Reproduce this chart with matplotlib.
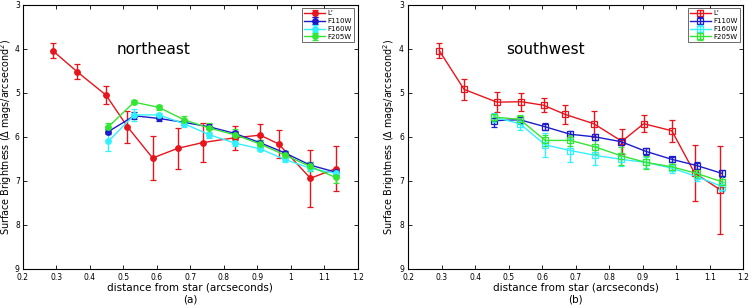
import matplotlib
matplotlib.use("Agg")
import matplotlib.pyplot as plt

# ---- Northeast data ----
ne_L_x = [0.29, 0.363, 0.449, 0.513, 0.588, 0.663, 0.737, 0.833, 0.909, 0.964, 1.059, 1.135]
ne_L_y = [4.04, 4.52, 5.05, 5.77, 6.48, 6.26, 6.13, 6.02, 5.96, 6.16, 6.94, 6.72]
ne_L_e = [0.17, 0.17, 0.21, 0.36, 0.50, 0.46, 0.45, 0.27, 0.26, 0.31, 0.65, 0.52]

ne_x = [0.456, 0.533, 0.607, 0.682, 0.757, 0.833, 0.908, 0.982, 1.058, 1.134]
ne_110_y = [5.88, 5.52, 5.58, 5.67, 5.77, 5.92, 6.13, 6.36, 6.64, 6.80]
ne_110_e = [0.06, 0.08, 0.05, 0.05, 0.06, 0.06, 0.05, 0.05, 0.06, 0.06]
ne_160_y = [6.10, 5.50, 5.50, 5.70, 5.95, 6.14, 6.27, 6.51, 6.71, 6.83]
ne_160_e = [0.22, 0.14, 0.05, 0.07, 0.07, 0.07, 0.06, 0.06, 0.06, 0.06]
ne_205_y = [5.77, 5.21, 5.33, 5.61, 5.80, 5.95, 6.16, 6.41, 6.67, 6.92]
ne_205_e = [0.08, 0.05, 0.05, 0.08, 0.12, 0.12, 0.08, 0.08, 0.10, 0.12]

# ---- Southwest data ----
sw_L_x = [0.293, 0.367, 0.465, 0.538, 0.604, 0.669, 0.754, 0.838, 0.903, 0.987, 1.055, 1.131]
sw_L_y = [4.04, 4.92, 5.21, 5.20, 5.28, 5.49, 5.70, 6.10, 5.70, 5.86, 6.82, 7.20]
sw_L_e = [0.17, 0.23, 0.23, 0.20, 0.16, 0.22, 0.30, 0.29, 0.19, 0.25, 0.63, 1.00]

sw_x = [0.457, 0.533, 0.609, 0.684, 0.759, 0.836, 0.910, 0.987, 1.061, 1.137]
sw_110_y = [5.63, 5.61, 5.77, 5.94, 6.00, 6.11, 6.33, 6.51, 6.65, 6.83]
sw_110_e = [0.15, 0.06, 0.08, 0.07, 0.07, 0.07, 0.07, 0.06, 0.07, 0.08]
sw_160_y = [5.55, 5.70, 6.18, 6.31, 6.42, 6.51, 6.58, 6.71, 6.90, 7.13]
sw_160_e = [0.10, 0.15, 0.28, 0.27, 0.22, 0.15, 0.13, 0.10, 0.10, 0.10]
sw_205_y = [5.55, 5.60, 6.08, 6.08, 6.23, 6.43, 6.58, 6.68, 6.83, 7.02]
sw_205_e = [0.08, 0.10, 0.12, 0.12, 0.15, 0.20, 0.15, 0.10, 0.10, 0.12]

labels = ["L'", "F110W", "F160W", "F205W"]
colors = ["#e8141c", "#1c1ccc", "#33f0ff", "#33e633"]
xticks = [0.2, 0.3, 0.4, 0.5, 0.6, 0.7, 0.8, 0.9, 1, 1.1, 1.2]
xticklabels = ["0.2", "0.3", "0.4", "0.5", "0.6", "0.7", "0.8", "0.9", "1", "1.1", "1.2"]
yticks = [3, 4, 5, 6, 7, 8, 9]

fig = plt.figure(figsize=(7.53, 3.08), dpi=100)
ax1 = fig.add_axes([0.030, 0.127, 0.445, 0.857])
ax2 = fig.add_axes([0.542, 0.127, 0.445, 0.857])

def draw(ax, Lx, Ly, Le, x, ys, es, marker, filled, title, tx, panel, ylab_x, ypad):
    series = [(Lx, Ly, Le)] + [(x, y, e) for y, e in zip(ys, es)]
    for (sx, sy, se), c, lab in zip(series, colors, labels):
        ax.errorbar(sx, sy, yerr=se, color=c, marker=marker, markersize=4 if filled else 4.5,
                    markerfacecolor=c if filled else 'none', markeredgecolor=c,
                    markeredgewidth=0.9, lw=1.0, elinewidth=1.0, capsize=2.5, capthick=1.0,
                    label=lab)
    ax.set_xlim(0.2, 1.2)
    ax.set_ylim(9, 3)
    ax.set_xticks(xticks)
    ax.set_xticklabels(xticklabels)
    ax.set_yticks(yticks)
    ax.tick_params(direction='in', top=True, right=True, labelsize=5.5, length=3, width=0.6)
    ax.tick_params(axis='x', pad=3)
    ax.tick_params(axis='y', pad=ypad)
    for s in ax.spines.values():
        s.set_linewidth(0.8)
    ax.set_xlabel("distance from star (arcseconds)", fontsize=7.5, labelpad=0)
    ax.set_ylabel("Surface Brightness ($\\Delta$ mags/arcsecond$^2$)", fontsize=6.9,
                  va='center')
    ax.yaxis.set_label_coords(ylab_x, 0.5)
    ax.text(tx, 4.02, title, fontsize=11, ha='center', va='center')
    bb = ax.get_position()
    fig.text((bb.x0 + bb.x1) / 2, 0.027, panel, fontsize=7.5, ha='center', va='center')
    leg = ax.legend(loc='upper right', fontsize=5, frameon=True, fancybox=False,
                    borderpad=0.3, labelspacing=0.25, handlelength=3, handletextpad=0.4,
                    borderaxespad=0.5)
    leg.get_frame().set_edgecolor('#444444')
    leg.get_frame().set_linewidth(0.7)

draw(ax1, ne_L_x, ne_L_y, ne_L_e, ne_x, [ne_110_y, ne_160_y, ne_205_y],
     [ne_110_e, ne_160_e, ne_205_e], 'o', True, "northeast", 0.59, "(a)", -0.048, 2)
draw(ax2, sw_L_x, sw_L_y, sw_L_e, sw_x, [sw_110_y, sw_160_y, sw_205_y],
     [sw_110_e, sw_160_e, sw_205_e], 's', False, "southwest", 0.61, "(b)", -0.058, 3)

fig.savefig("out.png", dpi=100)
